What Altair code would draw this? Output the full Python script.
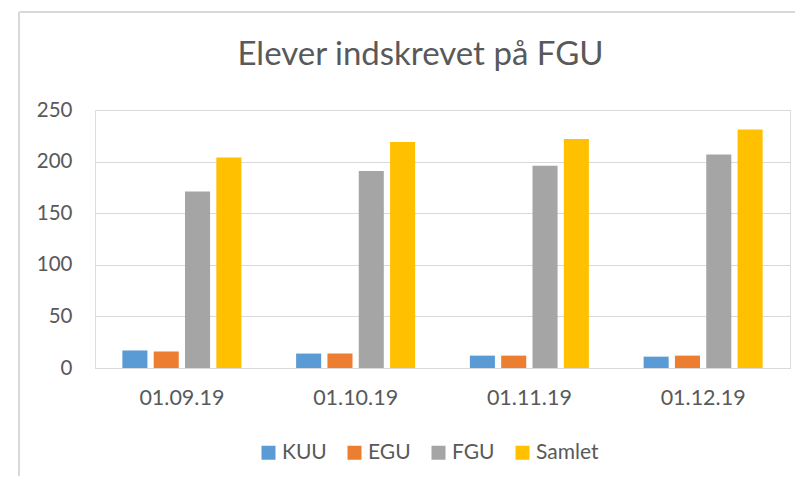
import altair as alt
import pandas as pd

dates = ["01.09.19", "01.10.19", "01.11.19", "01.12.19"]
series = ["KUU", "EGU", "FGU", "Samlet"]
kuu = [17, 14, 12, 11]
egu = [16, 14, 12, 12]
fgu = [171, 191, 196, 207]
samlet = [204, 219, 222, 231]
colors = ["#5B9BD5", "#ED7D31", "#A5A5A5", "#FFC000"]
y_ticks = [0, 50, 100, 150, 200, 250]

rows = []
for s, vals in zip(series, [kuu, egu, fgu, samlet]):
    for d, v in zip(dates, vals):
        rows.append({"Dato": d, "Serie": s, "Antal": v})
df = pd.DataFrame(rows)

FONT = "Lato"
TXT = "#595959"
GRID = "#d9d9d9"

bars = alt.Chart(df).mark_bar().encode(
    x=alt.X("Dato:N", sort=dates,
            scale=alt.Scale(paddingInner=0.315, paddingOuter=0.1575),
            axis=alt.Axis(title=None, labelAngle=0, labelPadding=19, ticks=False,
                          domain=True, domainColor=GRID, grid=False,
                          labelFont=FONT, labelFontSize=21.5, labelColor=TXT)),
    xOffset=alt.XOffset("Serie:N", sort=series,
                        scale=alt.Scale(paddingInner=0.2, paddingOuter=0)),
    y=alt.Y("Antal:Q", scale=alt.Scale(domain=[0, 250], nice=False),
            axis=alt.Axis(title=None, values=y_ticks, ticks=False, domain=False,
                          gridColor=GRID, labelPadding=23,
                          labelFont=FONT, labelFontSize=20.5, labelColor=TXT)),
    color=alt.Color("Serie:N", sort=series,
                    scale=alt.Scale(domain=series, range=colors),
                    legend=alt.Legend(title=None, orient="none", direction="horizontal",
                                      legendX=163, legendY=332,
                                      symbolType="square", symbolSize=196,
                                      symbolStrokeWidth=0, labelOffset=3,
                                      columnPadding=17,
                                      labelFont=FONT, labelFontSize=21, labelColor=TXT)),
)

frame_top = alt.Chart(df).mark_rule(color=GRID, strokeWidth=1.5).encode(
    x=alt.value(-76), x2=alt.value(800), y=alt.value(-98))
frame_left = alt.Chart(df).mark_rule(color=GRID, strokeWidth=1.5).encode(
    x=alt.value(-76), y=alt.value(-98), y2=alt.value(400))

chart = alt.layer(frame_top, frame_left, bars).properties(
    width=695, height=258,
    padding={"left": 87, "top": 102, "right": 5, "bottom": 108},
    autosize=alt.AutoSizeParams(type="none"),
    title=alt.TitleParams("Elever indskrevet på FGU", font=FONT, fontSize=33,
                          fontWeight="normal", color=TXT, anchor="middle",
                          dx=-22, offset=-87, baseline="alphabetic"),
).configure_view(stroke=None).configure(background="white")

chart.save("out.html", embed_options={"renderer": "svg", "actions": False})
